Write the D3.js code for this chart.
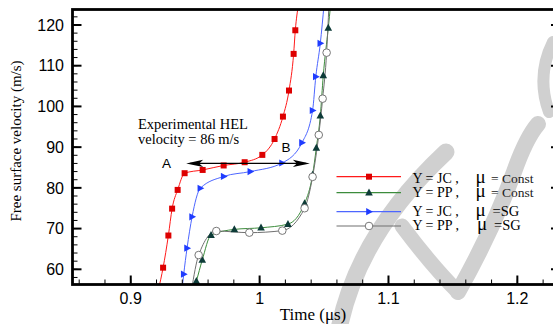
<!DOCTYPE html>
<html>
<head>
<meta charset="utf-8">
<script src="https://cdn.jsdelivr.net/npm/d3@7"></script>
<style>
body { margin: 0; background: #fff; }
svg { display: block; }
</style>
</head>
<body>
<svg width="553" height="324"></svg>
<script>
// Y = JC, mu = Const
const jcConstT = [0.9215, 0.9251, 0.9292, 0.9321, 0.9364, 0.9418, 0.9558, 0.9721, 0.9884, 1.0021, 1.0116, 1.0181, 1.0228, 1.0264, 1.0277, 1.0302];
const jcConstV = [55.0, 60.4, 68.3, 74.9, 79.5, 83.6, 84.4, 85.5, 86.3, 88.1, 92.0, 97.5, 103.9, 112.9, 118.7, 125.0];
// Y = PP, mu = Const
const ppConstT = [0.9488, 0.9509, 0.9555, 0.9623, 0.9804, 1.0011, 1.0220, 1.0349, 1.0411, 1.0440, 1.0471, 1.0494, 1.0533, 1.0551];
const ppConstV = [55.0, 57.1, 62.3, 68.4, 69.8, 70.2, 71.1, 76.2, 83.2, 89.8, 97.7, 107.6, 119.3, 125.0];
// Y = JC, mu = SG
const jcSgT = [0.9398, 0.9411, 0.9437, 0.9476, 0.9540, 0.9721, 0.9928, 1.0174, 1.0329, 1.0411, 1.0436, 1.0471, 1.0500];
const jcSgV = [55.0, 58.8, 65.2, 72.9, 79.9, 82.8, 84.0, 86.1, 91.1, 99.0, 107.3, 115.5, 125.0];
// Y = PP, mu = SG
const ppSgT = [0.9472, 0.9527, 0.9664, 0.9920, 1.0176, 1.0349, 1.0411, 1.0459, 1.0489, 1.0520, 1.0538];
const ppSgV = [55.0, 63.5, 69.4, 69.0, 69.5, 75.0, 82.7, 93.0, 101.9, 113.2, 125.0];

const xTicks = [0.9, 1, 1.1, 1.2];
const yTicks = [60, 70, 80, 90, 100, 110, 120];
const helVelocity = 86;
const helRange = [0.943, 1.039];

const svg = d3.select("svg");
const pLeft = 72.5, pRight = 560, pTop = 9.5, pBottom = 284.5;

const x = d3.scaleLinear().domain([0.8548, 1.2331]).range([pLeft, pRight]);
const y = d3.scaleLinear().domain([56.27, 123.8]).range([pBottom, pTop]);

// watermark
const wm = svg.append("g").attr("fill", "none").attr("stroke", "#d0d0d0")
  .attr("stroke-linecap", "round");
wm.append("path").attr("d", "M338,334 Q356,236 446,152").attr("stroke-width", 17);
wm.append("path").attr("d", "M402,226 Q432,266 458,292").attr("stroke-width", 15);
wm.append("path").attr("d", "M458,292 Q492,232 514,172 Q526,138 538,124").attr("stroke-width", 16);
wm.append("path").attr("d", "M553,42 Q536,76 549,112").attr("stroke-width", 12);

svg.append("defs").append("clipPath").attr("id", "plot")
  .append("rect").attr("x", pLeft).attr("y", pTop).attr("width", pRight - pLeft).attr("height", pBottom - pTop);

const series = [
  { t: jcConstT, v: jcConstV, line: "#ff1a1a", fill: "#dd0000", stroke: "#dd0000", shape: "square", mu: "Const", y: "JC" },
  { t: ppConstT, v: ppConstV, line: "#3c8c3c", fill: "#0d3b38", stroke: "#0d3b38", shape: "triUp", mu: "Const", y: "PP" },
  { t: jcSgT, v: jcSgV, line: "#4d66ff", fill: "#1f3cff", stroke: "#1f3cff", shape: "triRight", mu: "SG", y: "JC" },
  { t: ppSgT, v: ppSgV, line: "#707070", fill: "#ffffff", stroke: "#777777", shape: "circle", mu: "SG", y: "PP" }
];

function drawMarker(g, shape, cx, cy, s) {
  if (shape === "square") {
    g.append("rect").attr("x", cx - 3).attr("y", cy - 3).attr("width", 6).attr("height", 6)
      .attr("fill", s.fill);
  } else if (shape === "triUp") {
    g.append("path").attr("d", `M${cx},${cy - 4.2}L${cx + 3.8},${cy + 2.8}L${cx - 3.8},${cy + 2.8}Z`)
      .attr("fill", s.fill);
  } else if (shape === "triRight") {
    g.append("path").attr("d", `M${cx + 4},${cy}L${cx - 2.8},${cy + 3.6}L${cx - 2.8},${cy - 3.6}Z`)
      .attr("fill", s.fill);
  } else {
    g.append("circle").attr("cx", cx).attr("cy", cy).attr("r", 3.8)
      .attr("fill", s.fill).attr("stroke", s.stroke).attr("stroke-width", 1);
  }
}

const plot = svg.append("g").attr("clip-path", "url(#plot)");
const line = d3.line().x(d => x(d[0])).y(d => y(d[1])).curve(d3.curveMonotoneX);

series.forEach(s => {
  const pts = s.t.map((t, i) => [t, s.v[i]]);
  plot.append("path").datum(pts).attr("d", line)
    .attr("fill", "none").attr("stroke", s.line).attr("stroke-width", 1);
});
series.forEach(s => {
  const g = plot.append("g");
  s.t.forEach((t, i) => {
    const v = s.v[i];
    if (v > 56 && v < 124) drawMarker(g, s.shape, x(t), y(v), s);
  });
});

// axes (ticks inward)
const axisG = svg.append("g");
const xMinor = d3.range(0.86, 1.2331, 0.02);
const yMinor = d3.range(58, 123.8, 2);
axisG.selectAll(".xmin").data(xMinor).join("line")
  .attr("x1", d => x(d)).attr("x2", d => x(d)).attr("y1", pBottom).attr("y2", pBottom - 5)
  .attr("stroke", "#000").attr("stroke-width", 1);
axisG.selectAll(".xmaj").data(xTicks).join("line")
  .attr("x1", d => x(d)).attr("x2", d => x(d)).attr("y1", pBottom).attr("y2", pBottom - 9)
  .attr("stroke", "#000").attr("stroke-width", 2);
axisG.selectAll(".ymin").data(yMinor).join("line")
  .attr("x1", pLeft).attr("x2", pLeft + 5).attr("y1", d => y(d)).attr("y2", d => y(d))
  .attr("stroke", "#000").attr("stroke-width", 1);
axisG.selectAll(".ymaj").data(yTicks).join("line")
  .attr("x1", pLeft).attr("x2", pLeft + 9).attr("y1", d => y(d)).attr("y2", d => y(d))
  .attr("stroke", "#000").attr("stroke-width", 2);
axisG.selectAll(".ymajr").data(yTicks).join("line")
  .attr("x1", pRight).attr("x2", pRight - 9).attr("y1", d => y(d)).attr("y2", d => y(d))
  .attr("stroke", "#000").attr("stroke-width", 2);

svg.append("rect").attr("x", pLeft).attr("y", pTop).attr("width", pRight - pLeft).attr("height", pBottom - pTop)
  .attr("fill", "none").attr("stroke", "#000").attr("stroke-width", 2.8);

axisG.selectAll(".xlab").data(xTicks).join("text")
  .attr("x", d => x(d)).attr("y", 303.5).attr("text-anchor", "middle")
  .attr("font-family", "Liberation Sans, Arial, sans-serif").attr("font-size", 16)
  .text(d => d3.format("")(d));
axisG.selectAll(".ylab").data(yTicks).join("text")
  .attr("x", 64).attr("y", d => y(d) + 5.8).attr("text-anchor", "end")
  .attr("font-family", "Liberation Sans, Arial, sans-serif").attr("font-size", 16)
  .text(d => d);

const serif = "Liberation Serif, Times New Roman, serif";
svg.append("text").attr("x", 313).attr("y", 320).attr("text-anchor", "middle")
  .attr("font-family", serif).attr("font-size", 17).text("Time (μs)");
svg.append("text").attr("transform", "translate(21,141) rotate(-90)").attr("text-anchor", "middle")
  .attr("font-family", serif).attr("font-size", 15).text("Free surface velocity (m/s)");

// HEL annotation
svg.append("text").attr("x", 138).attr("y", 129).attr("font-family", serif).attr("font-size", 14.5)
  .text("Experimental HEL");
svg.append("text").attr("x", 138).attr("y", 143.5).attr("font-family", serif).attr("font-size", 14.5)
  .text("velocity = 86 m/s");
svg.append("text").attr("x", 162).attr("y", 168).attr("font-family", "Liberation Sans, Arial, sans-serif")
  .attr("font-size", 13.5).text("A");
svg.append("text").attr("x", 281.5).attr("y", 152).attr("font-family", "Liberation Sans, Arial, sans-serif")
  .attr("font-size", 13.5).text("B");

const hy = y(helVelocity), hx0 = x(helRange[0]), hx1 = x(helRange[1]);
svg.append("line").attr("x1", hx0 + 4).attr("x2", hx1 - 4).attr("y1", hy).attr("y2", hy)
  .attr("stroke", "#000").attr("stroke-width", 1.3);
svg.append("path").attr("d", `M${hx0},${hy}L${hx0 + 17},${hy - 3.6}L${hx0 + 13},${hy}L${hx0 + 17},${hy + 3.6}Z`);
svg.append("path").attr("d", `M${hx1},${hy}L${hx1 - 17},${hy - 3.6}L${hx1 - 13},${hy}L${hx1 - 17},${hy + 3.6}Z`);

// legend
const legLineY = [176.7, 192.7, 211.7, 226];
const legTextY = [182.5, 196.5, 216, 230];
const leg = svg.append("g");
series.forEach((s, i) => {
  const ly = legLineY[i];
  leg.append("line").attr("x1", 336.5).attr("x2", 401).attr("y1", ly).attr("y2", ly)
    .attr("stroke", s.line).attr("stroke-width", 1.2);
  drawMarker(leg, s.shape, 369, ly, s);
  const txt = leg.append("text").attr("y", legTextY[i]).attr("font-family", serif);
  txt.append("tspan").attr("x", 412.5).attr("font-size", 14).text(`Y = ${s.y} ,`);
  txt.append("tspan").attr("x", s.mu === "SG" && s.y === "PP" ? 477 : 475.5).attr("font-size", 19).text("μ");
  if (s.mu === "Const") {
    txt.append("tspan").attr("x", 491).attr("font-size", 13.5).attr("fill", "#222").text("= Const");
  } else {
    txt.append("tspan").attr("x", s.y === "PP" ? 494 : 492.5).attr("font-size", 14.5).text("=SG");
  }
});
</script>
</body>
</html>
